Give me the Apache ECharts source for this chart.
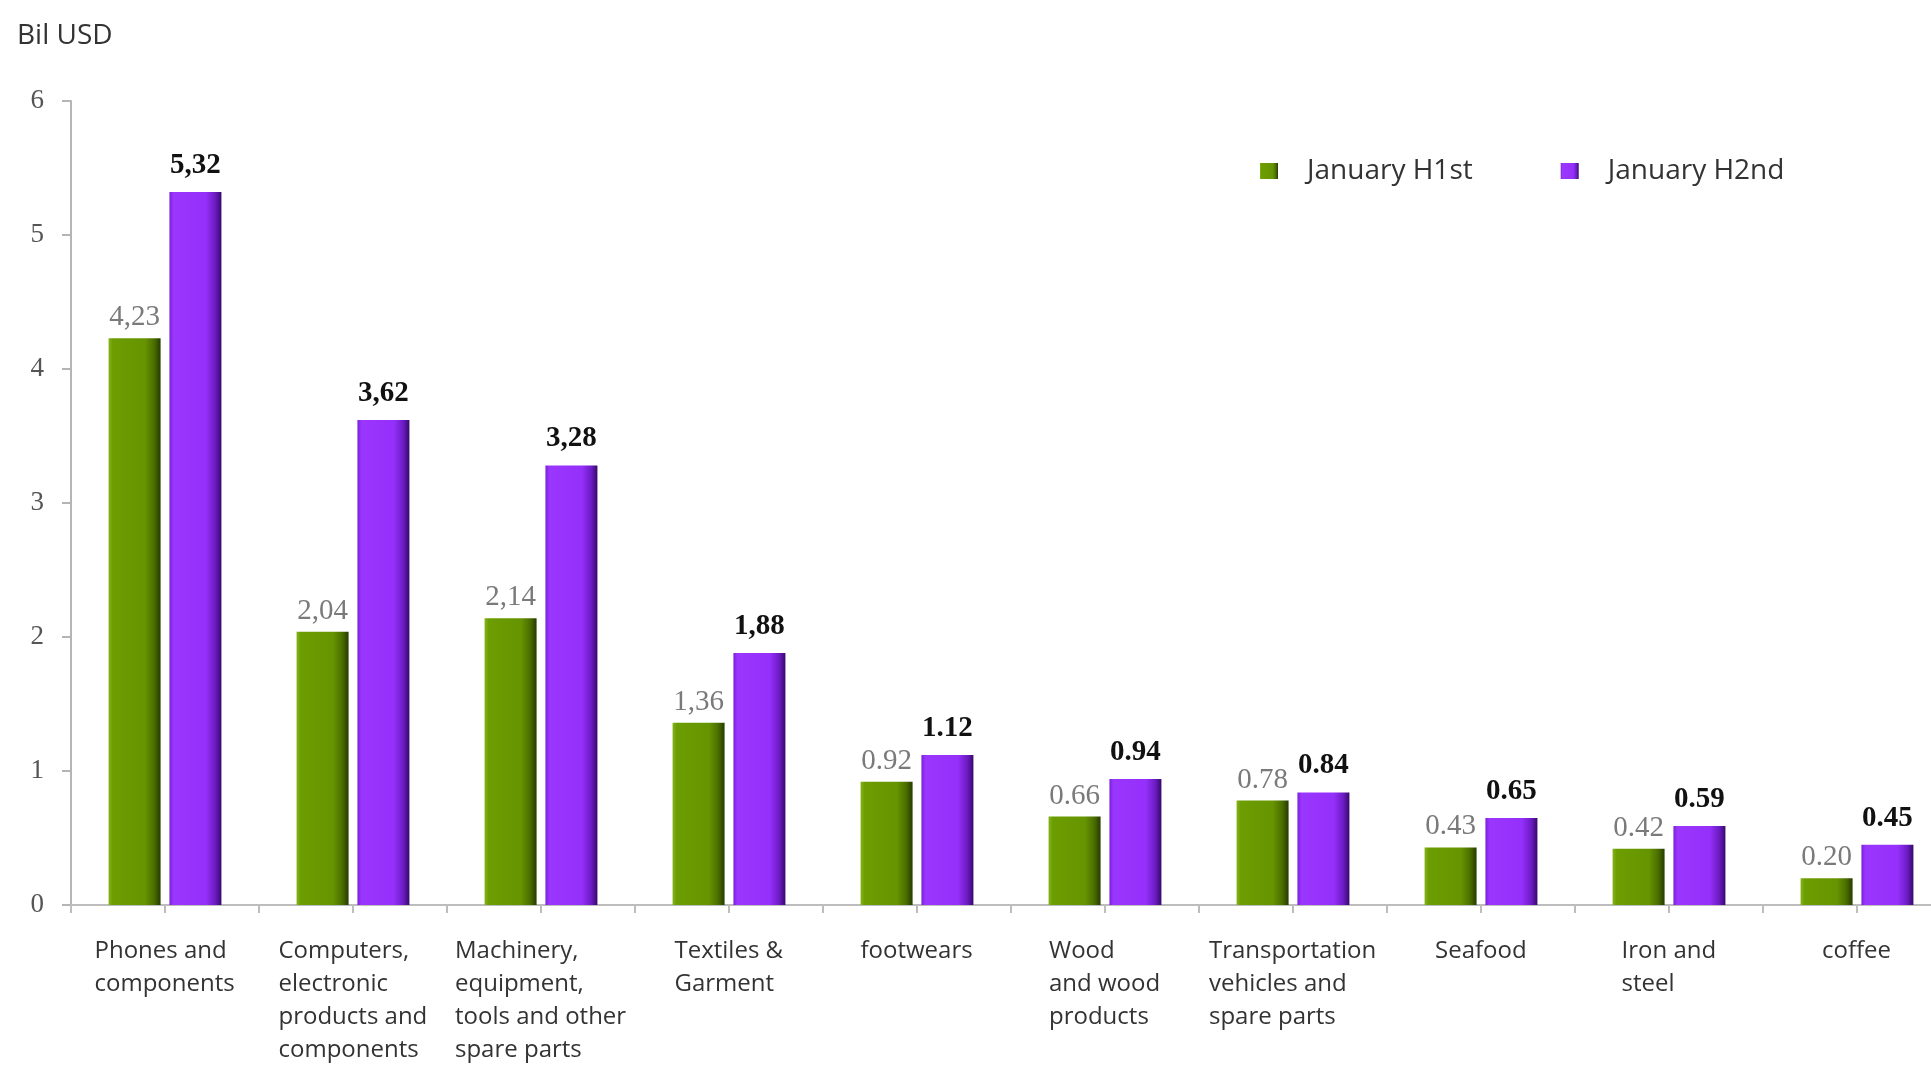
<!DOCTYPE html>
<html>
<head>
<meta charset="utf-8">
<script src="https://cdn.jsdelivr.net/npm/echarts@6/dist/echarts.min.js"></script>
<style>
    html, body { margin: 0; padding: 0; background: #fff; overflow: hidden; }
    /* a bit wider than the window: the original is cropped on the right */
    #chart { width: 1951px; height: 1066px; }
</style>
</head>
<body>
<div id="chart"></div>
<script>
// categories and values
const categories = [
    'Phones and\ncomponents',
    'Computers,\nelectronic\nproducts and\ncomponents',
    'Machinery,\nequipment,\ntools and other\nspare parts',
    'Textiles &\nGarment',
    'footwears',
    'Wood\nand wood\nproducts',
    'Transportation\nvehicles and\nspare parts',
    'Seafood',
    'Iron and\nsteel',
    'coffee'
]
const h1Values = [4.23, 2.04, 2.14, 1.36, 0.92, 0.66, 0.78, 0.43, 0.42, 0.20]
const h2Values = [5.32, 3.62, 3.28, 1.88, 1.12, 0.94, 0.84, 0.65, 0.59, 0.45]
const h1Labels = ['4,23', '2,04', '2,14', '1,36', '0.92', '0.66', '0.78', '0.43', '0.42', '0.20']
const h2Labels = ['5,32', '3,62', '3,28', '1,88', '1.12', '0.94', '0.84', '0.65', '0.59', '0.45']
const seriesNames = ['January H1st', 'January H2nd']
const yTicks = [0, 1, 2, 3, 4, 5, 6]

const sansFont = '"Open Sans", "Noto Sans", sans-serif'
const serifFont = '"Liberation Serif", "DejaVu Serif", serif'

// widest line of each category label, so lines can sit left aligned in a centred block
const ctx = document.createElement('canvas').getContext('2d')
ctx.font = '24px "Open Sans"'
const rich = {}
categories.forEach(function (c, i) {
    const w = Math.max.apply(null, c.split('\n').map(l => ctx.measureText(l).width))
    rich['c' + i] = {
        width: Math.ceil(w),
        align: 'left',
        fontSize: 24,
        lineHeight: 33,
        color: '#333',
        fontFamily: sansFont
    }
})

// half-category tick marks like the original axis
const halfTicks = []
for (let i = 0; i < categories.length * 2; i++) halfTicks.push('')

const greenFill = new echarts.graphic.LinearGradient(0, 0, 1, 0, [
    { offset: 0, color: '#84b31a' },
    { offset: 0.08, color: '#6c9d00' },
    { offset: 0.7, color: '#669400' },
    { offset: 0.88, color: '#4a6d00' },
    { offset: 1, color: '#263a00' }
])
const purpleFill = new echarts.graphic.LinearGradient(0, 0, 1, 0, [
    { offset: 0, color: '#7a22d8' },
    { offset: 0.08, color: '#9b36ff' },
    { offset: 0.7, color: '#9530fa' },
    { offset: 0.88, color: '#6c1cc4' },
    { offset: 1, color: '#38086a' }
])

const chart = echarts.init(document.getElementById('chart'))
chart.setOption({
    animation: false,
    backgroundColor: '#fff',
    graphic: [{
        type: 'text',
        left: 17,
        top: 22,
        style: {
            text: 'Bil USD',
            font: '28px ' + sansFont,
            fill: '#333'
        }
    }],
    legend: {
        left: 1255,
        top: 152,
        itemGap: 88,
        itemWidth: 18,
        itemHeight: 16,
        icon: 'rect',
        textStyle: {
            fontSize: 28,
            fontFamily: sansFont,
            color: '#333',
            padding: [0, 0, 0, 24]
        },
        data: seriesNames
    },
    grid: {
        left: 71,
        right: 0,
        top: 101,
        bottom: 161,
        containLabel: false
    },
    xAxis: [{
        type: 'category',
        data: categories,
        axisLine: { lineStyle: { color: '#bdbdbd', width: 2 } },
        axisTick: { show: false },
        axisLabel: {
            interval: 0,
            margin: 30,
            formatter: function (value, index) {
                return value.split('\n').map(l => '{c' + index + '|' + l + '}').join('\n')
            },
            rich: rich
        }
    }, {
        type: 'category',
        data: halfTicks,
        position: 'bottom',
        axisLine: { show: false },
        axisTick: { show: true, length: 8, lineStyle: { color: '#bdbdbd', width: 2 } },
        axisLabel: { show: false }
    }],
    yAxis: {
        type: 'value',
        min: yTicks[0],
        max: yTicks[yTicks.length - 1],
        interval: 1,
        splitLine: { show: false },
        axisLine: { show: true, lineStyle: { color: '#b5b5b5', width: 2 } },
        axisTick: { show: true, length: 9, lineStyle: { color: '#b5b5b5', width: 2 } },
        axisLabel: {
            margin: 27,
            fontSize: 27,
            fontFamily: serifFont,
            color: '#555'
        }
    },
    series: [{
        name: seriesNames[0],
        type: 'bar',
        barWidth: 52,
        barGap: '17%',
        data: h1Values,
        itemStyle: { color: greenFill },
        label: {
            show: true,
            position: 'top',
            distance: 6,
            fontSize: 29,
            fontFamily: serifFont,
            color: '#7a7a7a',
            formatter: p => h1Labels[p.dataIndex]
        }
    }, {
        name: seriesNames[1],
        type: 'bar',
        barWidth: 52,
        data: h2Values,
        itemStyle: { color: purpleFill },
        label: {
            show: true,
            position: 'top',
            distance: 12,
            fontSize: 29,
            fontWeight: 'bold',
            fontFamily: serifFont,
            color: '#111',
            formatter: p => h2Labels[p.dataIndex]
        }
    }]
})
</script>
</body>
</html>
